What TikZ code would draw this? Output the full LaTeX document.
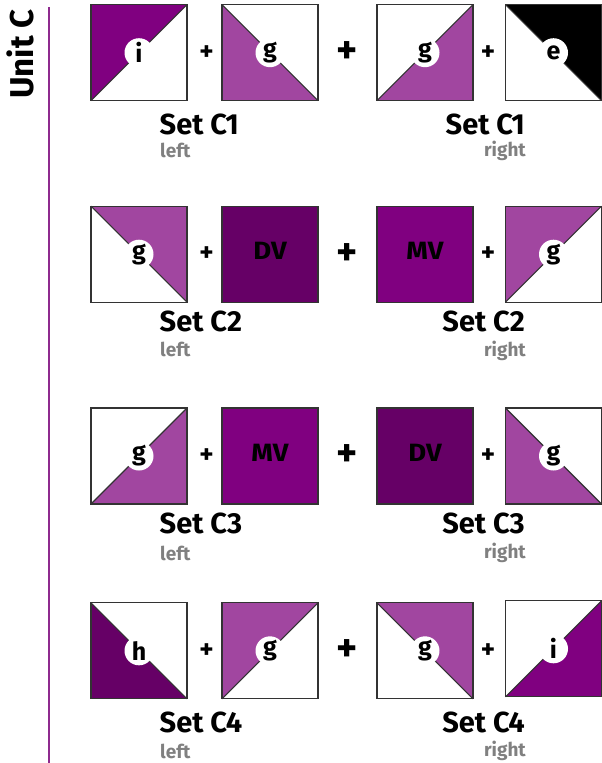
\documentclass[tikz,border=0pt]{standalone}
\usepackage{fontspec}
\setmainfont{Fira Sans}
\definecolor{mv}{HTML}{800080}
\definecolor{dv}{HTML}{660066}
\definecolor{gp}{HTML}{A146A0}
\definecolor{edgecol}{HTML}{333333}
\definecolor{rulecol}{HTML}{8E2A8E}
\definecolor{subgray}{HTML}{808080}
\tikzset{
  tilebox/.style={rectangle, minimum size=96pt, inner sep=0pt, outer sep=0pt, fill=white},
  edge/.style={draw=edgecol, line width=1.3pt},
  diag/.style={draw=edgecol, line width=1.1pt},
  badge/.style={circle, fill=white, minimum size=29pt, inner sep=0pt, font=\bfseries\fontsize{25}{25}\selectfont},
  solidlab/.style={inner sep=0pt, xscale=1.1, font=\bfseries\fontsize{25}{25}\selectfont},
  plussmall/.style={inner sep=0pt, font=\bfseries\fontsize{27}{27}\selectfont},
  plusbig/.style={inner sep=0pt, font=\bfseries\fontsize{40}{40}\selectfont},
  setlab/.style={inner sep=0pt, font=\bfseries\fontsize{29}{29}\selectfont},
  sublab/.style={inner sep=0pt, text=subgray, font=\bfseries\fontsize{19}{19}\selectfont},
  unitlab/.style={inner sep=0pt, rotate=90, anchor=base, font=\bfseries\fontsize{33}{33}\selectfont}
}
% tile with coloured upper-left triangle
\newcommand{\tileTL}[4]{%
  \node[tilebox] (#1) at (#2) {};
  \fill[#3] (#1.north west) -- (#1.north east) -- (#1.south west) -- cycle;
  \draw[diag] (#1.south west) -- (#1.north east);
  \draw[edge] (#1.south west) rectangle (#1.north east);
  \node[badge] (#1-l) at (#1.center) {#4};}
% coloured upper-right triangle
\newcommand{\tileTR}[4]{%
  \node[tilebox] (#1) at (#2) {};
  \fill[#3] (#1.north west) -- (#1.north east) -- (#1.south east) -- cycle;
  \draw[diag] (#1.north west) -- (#1.south east);
  \draw[edge] (#1.south west) rectangle (#1.north east);
  \node[badge] (#1-l) at (#1.center) {#4};}
% coloured lower-left triangle
\newcommand{\tileBL}[4]{%
  \node[tilebox] (#1) at (#2) {};
  \fill[#3] (#1.north west) -- (#1.south west) -- (#1.south east) -- cycle;
  \draw[diag] (#1.north west) -- (#1.south east);
  \draw[edge] (#1.south west) rectangle (#1.north east);
  \node[badge] (#1-l) at (#1.center) {#4};}
% coloured lower-right triangle
\newcommand{\tileBR}[4]{%
  \node[tilebox] (#1) at (#2) {};
  \fill[#3] (#1.north east) -- (#1.south east) -- (#1.south west) -- cycle;
  \draw[diag] (#1.south west) -- (#1.north east);
  \draw[edge] (#1.south west) rectangle (#1.north east);
  \node[badge] (#1-l) at (#1.center) {#4};}
% solid tile
\newcommand{\tileSolid}[4]{%
  \node[tilebox, fill=#3] (#1) at (#2) {};
  \draw[edge] (#1.south west) rectangle (#1.north east);
  \node[solidlab] (#1-l) at ([yshift=3pt]#1.center) {#4};}
% plus signs and labels for a row
\newcommand{\rowextras}[7]{% #1 name, #2 cy, #3 set text, #4 set baseline, #5 left baseline, #6 right set baseline, #7 right baseline
  \node[plussmall] (#1-p1) at (206.5,#2) {+};
  \node[plusbig] (#1-p2) at (347,#2) {+};
  \node[plussmall] (#1-p3) at (488,#2) {+};
  \node[setlab, anchor=base west] (#1-sl) at (159.5,#4) {#3};
  \node[sublab, anchor=base west] (#1-ll) at (160,#5) {left};
  \node[setlab, anchor=base east] (#1-sr) at (525,#6) {#3};
  \node[sublab, anchor=base east] (#1-rr) at (526,#7) {right};}

\begin{document}
\begin{tikzpicture}[x=1pt,y=-1pt]
\useasboundingbox (0,0) rectangle (602,763);

% side heading and rule
\node[unitlab] (unit) at (33,54) {Unit C};
\coordinate (ruletop) at (49,7);
\coordinate (rulebot) at (49,763);
\draw[rulecol, line width=1.6pt] (ruletop) -- (rulebot);

% row 1
\tileTL{r1a}{139,52.7}{mv}{i}
\tileBL{r1b}{270,52.7}{gp}{g}
\tileBR{r1c}{425,52.7}{gp}{g}
\tileTR{r1d}{553.5,52.7}{black}{e}
\rowextras{r1}{52.7}{Set C1}{134.3}{157.3}{134.3}{156.7}

% row 2
\tileTR{r2a}{139,254.2}{gp}{g}
\tileSolid{r2b}{270,254.2}{dv}{DV}
\tileSolid{r2c}{425,254.2}{mv}{MV}
\tileTL{r2d}{553.5,254.2}{gp}{g}
\rowextras{r2}{254.2}{Set C2}{331.7}{356.7}{331.7}{356.7}

% row 3
\tileBR{r3a}{139,456}{gp}{g}
\tileSolid{r3b}{270,456}{mv}{MV}
\tileSolid{r3c}{425,456}{dv}{DV}
\tileBL{r3d}{553.5,456}{gp}{g}
\rowextras{r3}{456}{Set C3}{533.3}{560}{533.3}{558}

% row 4
\tileBL{r4a}{139,650.8}{dv}{h}
\tileTL{r4b}{270,650.8}{gp}{g}
\tileTR{r4c}{425,650.8}{gp}{g}
\tileBR{r4d}{553.5,648.8}{mv}{i}
\rowextras{r4}{650.8}{Set C4}{732.7}{758.3}{732.7}{756.7}
\end{tikzpicture}
\end{document}
